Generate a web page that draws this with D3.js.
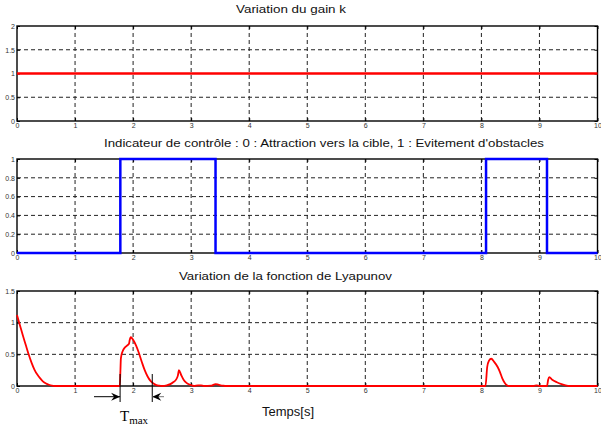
<!DOCTYPE html>
<html>
<head>
<meta charset="utf-8">
<script src="https://cdn.jsdelivr.net/npm/d3@7"></script>
<style>
  body { margin: 0; background: #fff; }
  .tick text { font-family: "Liberation Sans", Arial, sans-serif; font-size: 7px; fill: #333; }
  .title { font-family: "Liberation Sans", Arial, sans-serif; font-size: 10.5px; fill: #111; }
</style>
</head>
<body>
<div id="chart"></div>
<script>
// data
var timeDomain = [0, 10];
var xTicks = [0, 1, 2, 3, 4, 5, 6, 7, 8, 9, 10];

// gain k
var gainT = [0, 10];
var gainK = [1, 1];
var gainTicks = [0, 0.5, 1, 1.5, 2];

// control indicator (0 = attraction, 1 = obstacle avoidance)
var indT = [0, 1.78, 1.78, 3.42, 3.42, 8.08, 8.08, 9.13, 9.13, 10];
var indV = [0, 0, 1, 1, 0, 0, 1, 1, 0, 0];
var indTicks = [0, 0.2, 0.4, 0.6, 0.8, 1];

// Lyapunov function
var lyapT = [0, 0.05, 0.1, 0.15, 0.2, 0.25, 0.3, 0.35, 0.4, 0.45, 0.5, 0.55, 0.6, 0.65,
  1.77, 1.78, 1.79, 1.82, 1.86, 1.9, 1.93, 1.94, 1.96, 2.0, 2.05, 2.1, 2.15, 2.2, 2.25, 2.3, 2.35, 2.4, 2.45, 2.5,
  2.58, 2.64, 2.69, 2.74, 2.77, 2.79, 2.83, 2.87, 2.92, 2.98, 3.05,
  3.12, 3.17, 3.22, 3.35, 3.42, 3.47, 3.55, 3.6,
  8.07, 8.1, 8.13, 8.17, 8.22, 8.28, 8.32, 8.36, 8.4, 8.44, 8.48,
  8.9, 8.95, 9.0, 9.13, 9.15, 9.17, 9.22, 9.3, 9.38, 9.45, 9.52, 10];
var lyapV = [1.12, 0.96, 0.8, 0.65, 0.5, 0.37, 0.26, 0.18, 0.12, 0.07, 0.04, 0.02, 0.006, 0,
  0, 0.2, 0.44, 0.55, 0.61, 0.64, 0.67, 0.72, 0.77, 0.73, 0.64, 0.52, 0.38, 0.25, 0.15, 0.08, 0.04, 0.015, 0.005, 0,
  0.01, 0.03, 0.06, 0.1, 0.16, 0.25, 0.17, 0.1, 0.05, 0.02, 0,
  0.01, 0.01, 0, 0.005, 0.03, 0.02, 0.005, 0,
  0, 0.3, 0.4, 0.43, 0.38, 0.3, 0.22, 0.12, 0.05, 0.01, 0,
  0, 0.01, 0, 0, 0.1, 0.14, 0.1, 0.06, 0.03, 0.01, 0, 0];
var lyapTicks = [0, 0.5, 1, 1.5];

var svgWidth = 601;
var svgHeight = 432;

var svg = d3.select("#chart")
  .append("svg")
  .attr("width", svgWidth)
  .attr("height", svgHeight);

var x = d3.scaleLinear().domain(timeDomain).range([17, 597.5]);

// draws one MATLAB-like panel and returns its y scale
function panel(top, bottom, yMax, yTicks, title, titleX, titleY, titleLen) {
  var y = d3.scaleLinear().domain([0, yMax]).range([bottom, top]);
  var g = svg.append("g");

  // dashed grid
  g.selectAll(null)
    .data(xTicks.slice(1, -1))
    .enter()
    .append("line")
    .attr("x1", d => x(d)).attr("x2", d => x(d))
    .attr("y1", top).attr("y2", bottom)
    .attr("stroke", "#222")
    .attr("stroke-dasharray", "4,3");
  g.selectAll(null)
    .data(yTicks.slice(1, -1))
    .enter()
    .append("line")
    .attr("x1", x(0)).attr("x2", x(10))
    .attr("y1", d => y(d)).attr("y2", d => y(d))
    .attr("stroke", "#222")
    .attr("stroke-dasharray", "4,3");

  // axes with ticks inside
  g.append("g")
    .attr("transform", `translate(0, ${bottom})`)
    .call(d3.axisBottom(x).tickValues(xTicks).tickSize(-3).tickPadding(2.5).tickFormat(d3.format("d")))
    .call(a => a.select(".domain").remove());
  g.append("g")
    .attr("transform", `translate(0, ${top})`)
    .call(d3.axisTop(x).tickValues(xTicks).tickSize(-3).tickFormat(""))
    .call(a => a.select(".domain").remove());
  g.append("g")
    .attr("transform", `translate(${x(0)}, 0)`)
    .call(d3.axisLeft(y).tickValues(yTicks).tickSize(-3).tickPadding(2).tickFormat(d => d))
    .call(a => a.select(".domain").remove());
  g.append("g")
    .attr("transform", `translate(${x(10)}, 0)`)
    .call(d3.axisRight(y).tickValues(yTicks).tickSize(-3).tickFormat(""))
    .call(a => a.select(".domain").remove());
  g.selectAll(".tick line").attr("stroke", "#000");

  // box
  g.append("rect")
    .attr("x", x(0)).attr("y", top)
    .attr("width", x(10) - x(0)).attr("height", bottom - top)
    .attr("fill", "none")
    .attr("stroke", "#000")
    .attr("stroke-width", 1.4);

  svg.append("text")
    .attr("class", "title")
    .attr("x", titleX).attr("y", titleY)
    .attr("textLength", titleLen)
    .attr("lengthAdjust", "spacingAndGlyphs")
    .text(title);

  return y;
}

var y1 = panel(26, 121, 2, gainTicks, "Variation du gain k", 236, 13, 110);
var y2 = panel(159, 253, 1, indTicks,
  "Indicateur de contrôle : 0 : Attraction vers la cible, 1 : Evitement d'obstacles", 104, 147, 440);
var y3 = panel(291, 386, 1.5, lyapTicks, "Variation de la fonction de Lyapunov", 179, 280, 213);

// series
var gainLine = d3.line().x((d, i) => x(gainT[i])).y(d => y1(d));
svg.append("path")
  .attr("d", gainLine(gainK))
  .attr("fill", "none")
  .attr("stroke", "#ff0000")
  .attr("stroke-width", 2.5);

var indLine = d3.line().x((d, i) => x(indT[i])).y(d => y2(d));
svg.append("path")
  .attr("d", indLine(indV))
  .attr("fill", "none")
  .attr("stroke", "#0000ff")
  .attr("stroke-width", 2.5);

var lyapLine = d3.line().x((d, i) => x(lyapT[i])).y(d => y3(d)).curve(d3.curveMonotoneX);
svg.append("path")
  .attr("d", lyapLine(lyapV))
  .attr("fill", "none")
  .attr("stroke", "#ff0000")
  .attr("stroke-width", 1.8);

// x label
svg.append("text")
  .attr("class", "title")
  .attr("x", 262).attr("y", 416)
  .attr("textLength", 52)
  .attr("lengthAdjust", "spacingAndGlyphs")
  .style("font-size", "12px")
  .text("Temps[s]");

// Tmax annotation
var tA = 1.776, tB = 2.33, arrowY = 396.7;
var ann = svg.append("g").attr("stroke", "#000").attr("stroke-width", 1);
ann.append("line").attr("x1", x(tA)).attr("x2", x(tA)).attr("y1", 374).attr("y2", 402);
ann.append("line").attr("x1", x(tB)).attr("x2", x(tB)).attr("y1", 374).attr("y2", 402);
ann.append("line").attr("x1", 94).attr("x2", x(tA)).attr("y1", arrowY).attr("y2", arrowY);
ann.append("line").attr("x1", x(tB)).attr("x2", 164).attr("y1", arrowY).attr("y2", arrowY).attr("stroke", "#777");
svg.append("path")
  .attr("d", `M${x(tA)},${arrowY} l-9,-4 l3,4 l-3,4 z`)
  .attr("fill", "#000");
svg.append("path")
  .attr("d", `M${x(tB)},${arrowY} l9,-4 l-3,4 l3,4 z`)
  .attr("fill", "#000");

var tmax = svg.append("text")
  .attr("x", 120).attr("y", 420.5)
  .style("font-family", "'Liberation Serif', 'Times New Roman', serif")
  .style("font-size", "15px")
  .attr("fill", "#000");
tmax.append("tspan").text("T");
tmax.append("tspan").attr("dy", 3).style("font-size", "11px").text("max");
</script>
</body>
</html>
